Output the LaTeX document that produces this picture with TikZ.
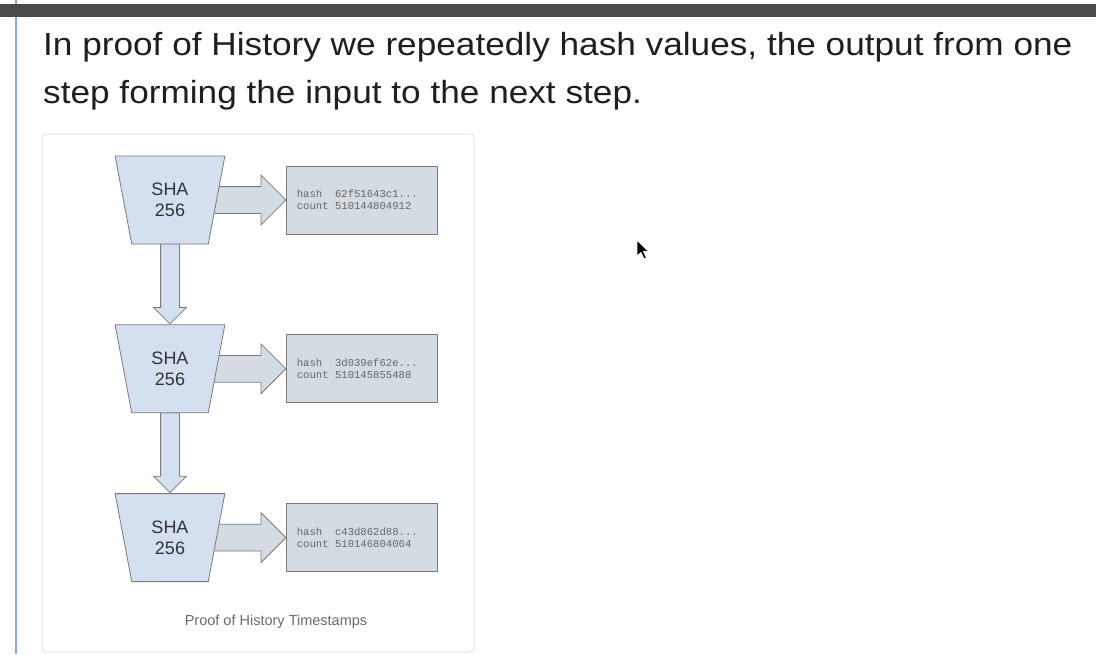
\documentclass[tikz,border=0pt]{standalone}
\usepackage{fontspec}
\setmainfont{Liberation Sans}
\newfontfamily\introfont{Liberation Sans}[FakeStretch=1.1]
\newfontfamily\hashfont{Liberation Mono}
\usetikzlibrary{shapes.geometric, shapes.arrows, positioning, backgrounds}

\definecolor{shafill}{HTML}{D4DFF0}
\definecolor{boxfill}{HTML}{D3DCE3}
\definecolor{edgegray}{HTML}{7A7A7A}
\definecolor{hashtext}{HTML}{666666}
\definecolor{topbar}{HTML}{4A4A4A}
\definecolor{sideline}{HTML}{8EA6E6}
\definecolor{cardedge}{HTML}{E2E2E2}
\definecolor{captext}{HTML}{6B6B6B}

\begin{document}
\begin{tikzpicture}[x=1pt, y=-1pt, node distance=80pt,
  hasher/.style={draw=edgegray, fill=shafill, line width=0.8pt, trapezium, shape border rotate=180, trapezium stretches=true, minimum width=110pt, minimum height=88pt, trapezium left angle=76.6, trapezium right angle=76.6, inner sep=0pt, align=center, font=\fontsize{18}{21}\selectfont, text=black!80},
  hashbox/.style={draw=edgegray, fill=boxfill, line width=0.8pt, minimum width=151pt, minimum height=68pt, inner xsep=10pt, text width=131pt, align=left, font=\hashfont\fontsize{10.6}{12}\selectfont, text=hashtext},
  outarrow/.style={draw=edgegray, fill=boxfill, line width=0.8pt, single arrow, minimum height=76pt, inner xsep=0pt, inner ysep=13pt, single arrow head extend=11.5pt, anchor=tip},
  nextarrow/.style={draw=edgegray, fill=shafill, line width=0.8pt, single arrow, shape border rotate=270, minimum height=80pt, inner xsep=9pt, inner ysep=0pt, single arrow head extend=7pt, anchor=tip}]
  \useasboundingbox (0,0) rectangle (1096,654);
  % Window frame
  \fill[sideline] (15,0) rectangle (16.6,654);
  \fill[topbar] (0,4) rectangle (1096,17);
  \node[anchor=base west, inner sep=0pt, text=black!88, font=\introfont\fontsize{32}{48}\selectfont] (intro1) at (43,55) {In proof of History we repeatedly hash values, the output from one};
  \node[anchor=base west, inner sep=0pt, text=black!88, font=\introfont\fontsize{32}{48}\selectfont] (intro2) at (43,103) {step forming the input to the next step.};
  \draw[cardedge, line width=1pt, rounded corners=4pt] (42,134) rectangle (474,652);
  % Hash chain
  \node[hasher] (sha1) at (170,200) {SHA\\256};
  \node[hasher, below=of sha1] (sha2) {SHA\\256};
  \node[hasher, below=of sha2] (sha3) {SHA\\256};
  \node[hashbox, right=69.5pt of sha1] (out1) {hash\phantom{ii}62f51643c1...\\count\phantom{i}510144804912};
  \node[hashbox, right=69.5pt of sha2] (out2) {hash\phantom{ii}3d039ef62e...\\count\phantom{i}510145855488};
  \node[hashbox, right=69.5pt of sha3] (out3) {hash\phantom{ii}c43d862d88...\\count\phantom{i}510146804064};
  % Block arrows behind the hashers
  \begin{scope}[on background layer]
    \node[outarrow] (arr1) at (out1.west) {};
    \node[outarrow] (arr2) at (out2.west) {};
    \node[outarrow] (arr3) at (out3.west) {};
    \node[nextarrow] (step12) at (sha2.north) {};
    \node[nextarrow] (step23) at (sha3.north) {};
  \end{scope}
  \node[anchor=base, inner sep=0pt, text=captext, font=\fontsize{14.5}{16}\selectfont] (caption) at (276,625) {Proof of History Timestamps};
  % Pointer
  \filldraw[fill=black, draw=white, line width=0.8pt] (637,240) -- (637,256) -- (641,252.5) -- (644,259) -- (646.5,258) -- (643.5,251.5) -- (648.5,251.5) -- cycle;
\end{tikzpicture}
\end{document}
